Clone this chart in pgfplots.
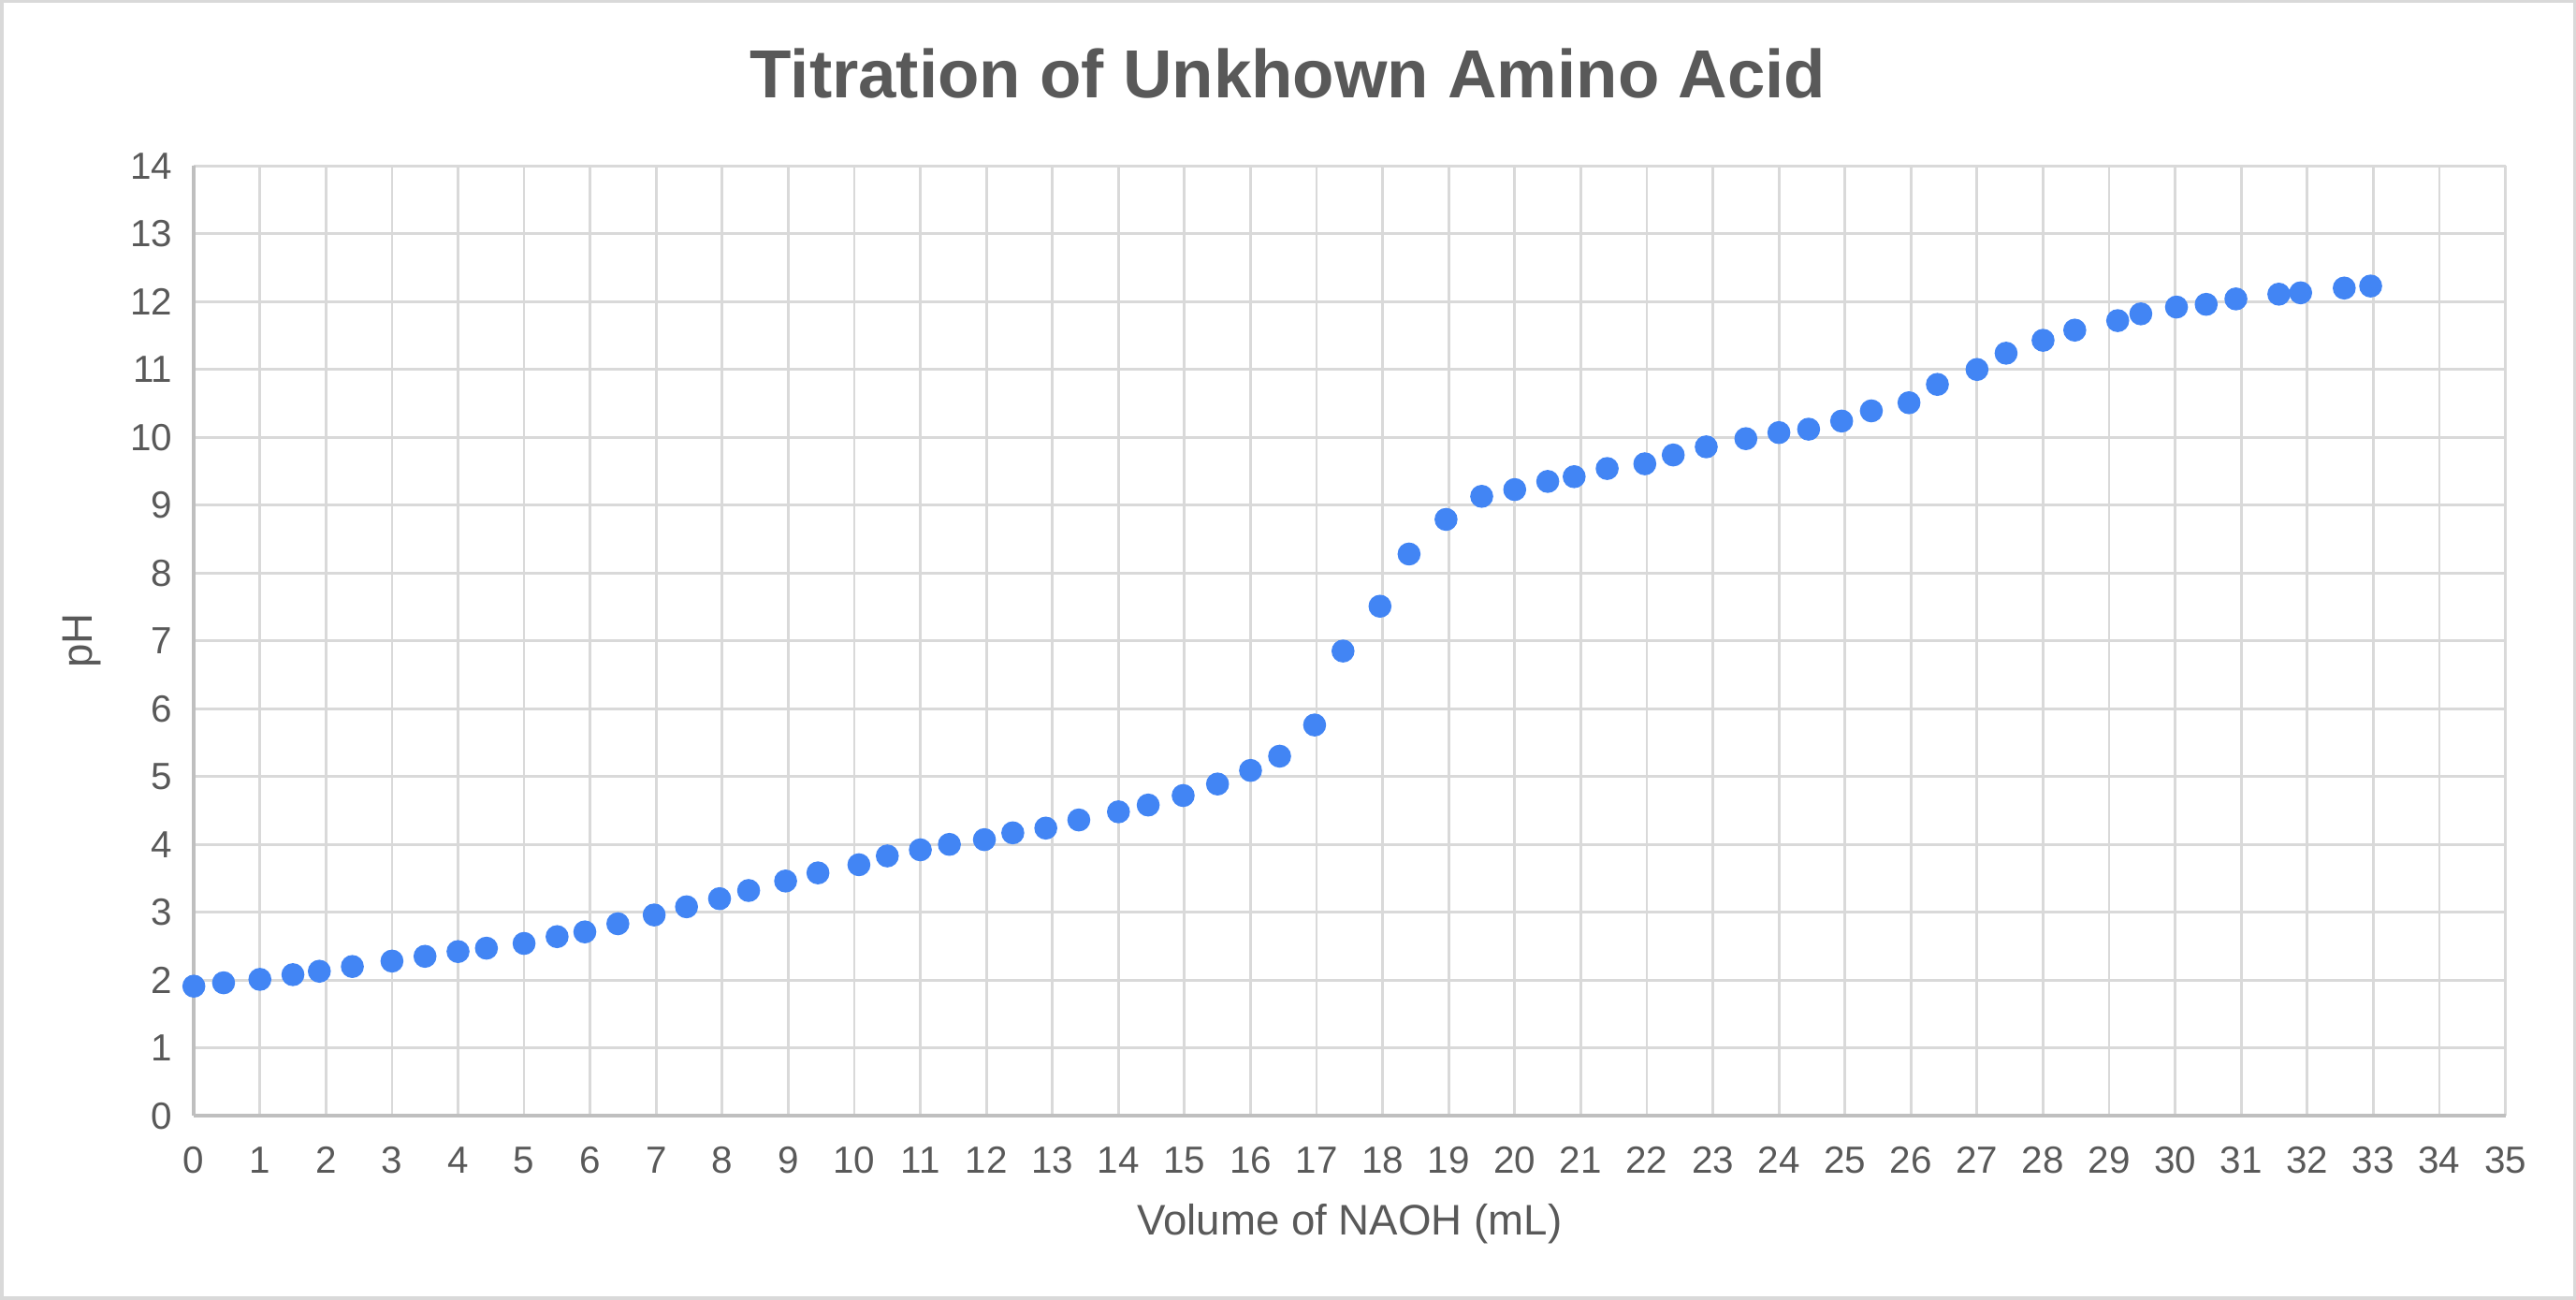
\documentclass[border=0pt]{standalone}
\usepackage{pgfplots}
\pgfplotsset{compat=1.18}
\usepackage{fontspec}
\setmainfont{Liberation Sans}
\definecolor{txtgray}{HTML}{595959}
\definecolor{gridgray}{HTML}{D9D9D9}
\definecolor{axgray}{HTML}{BFBFBF}
\definecolor{dotblue}{HTML}{4285F4}

\begin{document}
\begin{tikzpicture}
% outer frame fixes the page size
\draw[gridgray, line width=1pt] (-58.5pt,-55.5pt) rectangle (724.5pt,339pt);
\begin{axis}[
  scale only axis,
  width=703.5pt, height=289pt,
  at={(0,0)}, anchor=south west,
  xmin=0, xmax=35, ymin=0, ymax=14,
  xtick distance=1, ytick distance=1,
  axis x line=bottom, axis y line=left,
  axis line style={axgray, line width=1pt, -},
  grid=major,
  major grid style={gridgray, line width=0.8pt},
  major tick length=0pt,
  tick label style={font=\fontsize{11.5}{13}\selectfont, text=txtgray},
  /pgf/number format/assume math mode=true,
  xticklabel style={yshift=-6pt},
  yticklabel style={xshift=-3pt},
  clip=false,
  axis on top=false,
]
\addplot[only marks, mark=*, mark size=3.3pt, color=dotblue] coordinates {
(0,1.91) (0.45,1.96) (1.0,2.01) (1.5,2.08) (1.9,2.13) (2.4,2.2)
(3.0,2.28) (3.5,2.35) (4.0,2.42) (4.43,2.47) (5.0,2.54) (5.5,2.64)
(5.92,2.71) (6.42,2.83) (6.97,2.96) (7.46,3.08) (7.96,3.2) (8.4,3.32)
(8.96,3.46) (9.45,3.58) (10.07,3.7) (10.5,3.83) (11.0,3.92) (11.44,4.0)
(11.97,4.07) (12.4,4.17) (12.9,4.24) (13.4,4.36) (14.0,4.48) (14.45,4.58)
(14.98,4.72) (15.5,4.89) (16.0,5.09) (16.44,5.3) (16.97,5.76) (17.4,6.85)
(17.96,7.51) (18.4,8.28) (18.96,8.79) (19.5,9.13) (20.0,9.23) (20.5,9.35)
(20.9,9.42) (21.4,9.54) (21.97,9.61) (22.4,9.74) (22.9,9.86) (23.5,9.98)
(24.0,10.07) (24.45,10.12) (24.95,10.24) (25.4,10.39) (25.97,10.51) (26.4,10.78)
(27.0,11.0) (27.44,11.24) (28.0,11.43) (28.48,11.58) (29.13,11.72) (29.48,11.82)
(30.02,11.92) (30.47,11.96) (30.92,12.04) (31.57,12.11) (31.9,12.13) (32.56,12.2)
(32.96,12.23)
};
\end{axis}
\node[text=txtgray, font=\fontsize{20.7}{24}\selectfont\bfseries] at (333pt,317pt) {Titration of Unkhown Amino Acid};
\node[text=txtgray, font=\fontsize{13}{15}\selectfont] at (351.75pt,-33pt) {Volume of NAOH (mL)};
\node[text=txtgray, font=\fontsize{13}{15}\selectfont, rotate=90] at (-34pt,144.5pt) {pH};
\end{tikzpicture}
\end{document}
